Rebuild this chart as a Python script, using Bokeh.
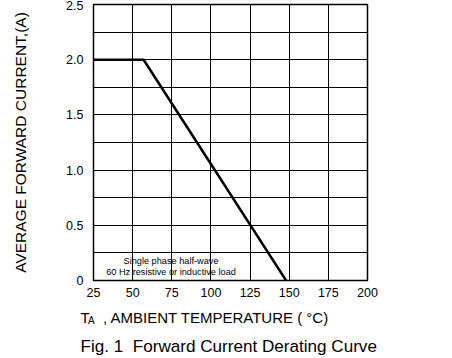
from bokeh.plotting import figure
from bokeh.layouts import column
from bokeh.models import Range1d, FixedTicker, Label
from bokeh.core.properties import value
from bokeh.embed import file_html
from bokeh.resources import INLINE

# ---- data ----
temperature = [25, 57, 148]          # ambient temperature, deg C
current = [2.0, 2.0, 0.0]            # average forward current, A

x_ticks = [25, 50, 75, 100, 125, 150, 175, 200]
y_ticks = [0.0, 0.5, 1.0, 1.5, 2.0, 2.5]
y_tick_labels = ["0", "0.5", "1.0", "1.5", "2.0", "2.5"]
y_grid = [0.0, 0.25, 0.5, 0.75, 1.0, 1.25, 1.5, 1.75, 2.0, 2.25, 2.5]

y_title = "AVERAGE FORWARD CURRENT,(A)"
x_title_main = "T"
x_title_sub = "A"
x_title_rest = ", AMBIENT TEMPERATURE ( \u00b0C)"
caption = "Fig. 1\u00a0 Forward Current Derating Curve"
note_lines = ["Single phase half-wave", "60 Hz resistive or inductive load"]

FONT = "Liberation Sans"
W = 452
H_MAIN = 305
H_TEXT = 358 - H_MAIN

p = figure(width=W, height=H_MAIN, output_backend="svg", toolbar_location=None,
           x_range=Range1d(25, 200), y_range=Range1d(0, 2.5),
           min_border_left=93, min_border_right=85,
           min_border_top=4, min_border_bottom=H_MAIN - 280)
p.background_fill_color = "white"
p.border_fill_color = "white"
p.outline_line_color = "black"
p.outline_line_width = 1.5

for ax in (p.xaxis, p.yaxis):
    ax.axis_line_color = None
    ax.major_tick_line_color = None
    ax.minor_tick_line_color = None
    ax.major_tick_out = 0
    ax.major_tick_in = 0
    ax.minor_tick_out = 0
    ax.minor_tick_in = 0
    ax.major_label_text_font = FONT
    ax.major_label_text_font_size = "12.5px"
    ax.major_label_text_color = "black"

p.xaxis.ticker = FixedTicker(ticks=x_ticks)
p.xaxis.major_label_standoff = 7
p.yaxis.ticker = FixedTicker(ticks=y_ticks)
p.yaxis.major_label_overrides = dict(zip(y_ticks, y_tick_labels))
p.yaxis.major_label_standoff = 10
p.yaxis.axis_label = y_title
p.yaxis.axis_label_text_font = FONT
p.yaxis.axis_label_text_font_size = "15.5px"
p.yaxis.axis_label_text_font_style = "normal"
p.yaxis.axis_label_text_color = "black"
p.yaxis.axis_label_standoff = 34

p.xgrid.ticker = FixedTicker(ticks=x_ticks)
p.ygrid.ticker = FixedTicker(ticks=y_grid)
for g in (p.xgrid, p.ygrid):
    g.grid_line_color = "black"
    g.grid_line_width = 1
    g.grid_line_alpha = 1

# derating curve
p.line(temperature, current, line_color="black", line_width=2.5)

# note inside plot
p.add_layout(Label(x=74.5, y=0.181, text=note_lines[0], text_align="center",
                   text_baseline="alphabetic", text_font=FONT,
                   text_font_size="9.2px", text_color="black"))
p.add_layout(Label(x=74.5, y=0.081, text=note_lines[1], text_align="center",
                   text_baseline="alphabetic", text_font=FONT,
                   text_font_size="9.2px", text_color="black"))

# ---- text strip below: x title (with subscript) and caption ----
t = figure(width=W, height=H_TEXT, output_backend="svg", toolbar_location=None,
           x_range=Range1d(0, W), y_range=Range1d(358, H_MAIN),
           x_axis_type=None, y_axis_type=None, min_border=0)
t.min_border_left = 0
t.min_border_right = 0
t.min_border_top = 0
t.min_border_bottom = 0
t.outline_line_color = None
t.grid.visible = False
t.background_fill_color = "white"
t.border_fill_color = "white"
if "frame_align" in t.properties():
    t.frame_align = False
    p.frame_align = False

t.text(x=[80, 102.5], y=[317, 317], text=[x_title_main, x_title_rest],
       text_font=value(FONT), text_font_size="15px", text_color="black",
       text_align="left", text_baseline="alphabetic")
t.text(x=[87.5], y=[320], text=[x_title_sub],
       text_font=value(FONT), text_font_size="10px", text_color="black",
       text_align="left", text_baseline="alphabetic")
t.text(x=[80], y=[346], text=[caption],
       text_font=value(FONT), text_font_size="17.1px", text_color="black",
       text_align="left", text_baseline="alphabetic")

layout = column(p, t, spacing=0)
open("out.html", "w").write(file_html(layout, INLINE))
